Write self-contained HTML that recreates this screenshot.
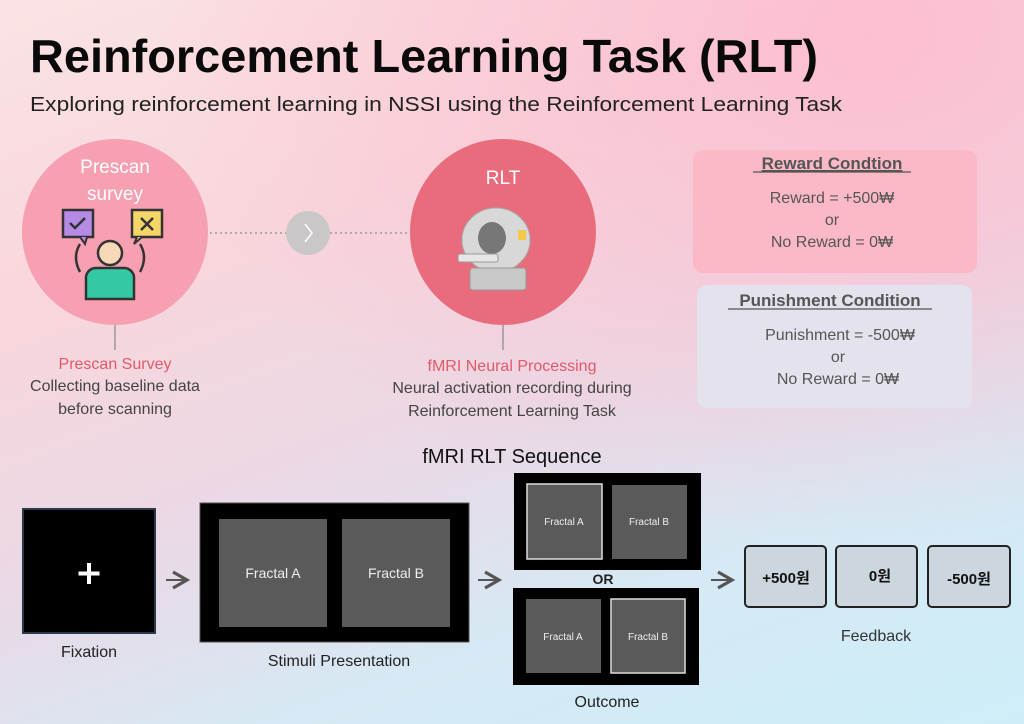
<!DOCTYPE html>
<html><head><meta charset="utf-8"><style>
html,body{margin:0;padding:0;width:1024px;height:724px;overflow:hidden}
body{background:linear-gradient(180deg,rgba(0,0,0,0) 0%,rgba(0,0,0,0) 100%),linear-gradient(160deg,#fbe3e4 0%,#f8d6dc 30%,#ead9e6 55%,#d6e9f4 75%,#cdeef8 100%)}
svg{position:absolute;left:0;top:0}
text{font-family:"Liberation Sans","Noto Sans CJK KR",sans-serif}
</style></head><body>
<svg width="1024" height="724" viewBox="0 0 1024 724">
<defs>
<radialGradient id="pk" cx="0.85" cy="0.05" r="0.7">
<stop offset="0" stop-color="#fcbfd0" stop-opacity="1"/>
<stop offset="1" stop-color="#fcbfd0" stop-opacity="0"/>
</radialGradient>
<marker id="ar" markerWidth="10" markerHeight="10" refX="8" refY="5" orient="auto"><path d="M1,1 L8,5 L1,9" fill="none" stroke="#555" stroke-width="1.6"/></marker>
</defs>
<rect width="1024" height="724" fill="url(#pk)"/>
<text x="30" y="72" font-size="46" font-weight="bold" fill="#0a0a0a" textLength="788" lengthAdjust="spacingAndGlyphs">Reinforcement Learning Task (RLT)</text>
<text x="30" y="111" font-size="20" fill="#222" textLength="812" lengthAdjust="spacingAndGlyphs">Exploring reinforcement learning in NSSI using the Reinforcement Learning Task</text>

<!-- dotted connector -->
<line x1="200" y1="233" x2="420" y2="233" stroke="#b5a8ad" stroke-width="2" stroke-dasharray="2,3"/>
<circle cx="308" cy="233" r="22" fill="#c9c7c8"/>
<path d="M305,224 L312,233 L305,242" fill="none" stroke="#fff" stroke-width="1.5"/>

<!-- circle 1 -->
<circle cx="115" cy="232" r="93" fill="#f7a0b2"/>
<text x="115" y="173" font-size="19" fill="#fff" text-anchor="middle">Prescan</text>
<text x="115" y="200" font-size="19" fill="#fff" text-anchor="middle">survey</text>
<rect x="63" y="210" width="30" height="27" fill="#b68be6" stroke="#333" stroke-width="2.5"/>
<path d="M70,223 l5,5 l10,-10" fill="none" stroke="#333" stroke-width="2.5"/>
<path d="M80,237 l5,7 l2,-7" fill="#b68be6" stroke="#333" stroke-width="2"/>
<rect x="132" y="210" width="30" height="27" fill="#f6d66a" stroke="#333" stroke-width="2.5"/>
<path d="M141,218 l12,12 M153,218 l-12,12" stroke="#333" stroke-width="2.5"/>
<path d="M137,237 l-3,7 l8,-7" fill="#f6d66a" stroke="#333" stroke-width="2"/>
<circle cx="110" cy="253" r="12" fill="#f7d8b8" stroke="#333" stroke-width="2.5"/>
<path d="M86,299 v-20 a10,10 0 0 1 10,-11 h28 a10,10 0 0 1 10,11 v20 z" fill="#34c9a5" stroke="#333" stroke-width="2.5"/>
<path d="M80,272 q-8,-15 0,-28 M140,272 q8,-15 0,-28" fill="none" stroke="#333" stroke-width="2.5"/>
<line x1="115" y1="325" x2="115" y2="350" stroke="#999" stroke-width="1.5"/>
<text x="115" y="369" font-size="16" fill="#e05a6a" text-anchor="middle">Prescan Survey</text>
<text x="115" y="391" font-size="16" fill="#444" text-anchor="middle">Collecting baseline data</text>
<text x="115" y="414" font-size="16" fill="#444" text-anchor="middle">before scanning</text>

<!-- circle 2 -->
<circle cx="503" cy="232" r="93" fill="#e96c7d"/>
<text x="503" y="184" font-size="19" fill="#fff" text-anchor="middle">RLT</text>
<ellipse cx="496" cy="240" rx="34" ry="32" fill="#d8d8d8" stroke="#aaa"/>
<ellipse cx="492" cy="238" rx="14" ry="16" fill="#777"/>
<rect x="470" y="268" width="56" height="22" rx="3" fill="#c8c8c8" stroke="#999"/>
<rect x="458" y="254" width="40" height="8" rx="2" fill="#e6e6e6" stroke="#999"/>
<rect x="518" y="230" width="8" height="10" fill="#f2c94c"/>
<line x1="503" y1="325" x2="503" y2="350" stroke="#999" stroke-width="1.5"/>
<text x="512" y="371" font-size="16" fill="#e05a6a" text-anchor="middle">fMRI Neural Processing</text>
<text x="512" y="393" font-size="16" fill="#444" text-anchor="middle">Neural activation recording during</text>
<text x="512" y="416" font-size="16" fill="#444" text-anchor="middle">Reinforcement Learning Task</text>

<!-- condition boxes -->
<rect x="693" y="150" width="284" height="123" rx="10" fill="#fbb9c7"/>
<text x="832" y="169" font-size="17" font-weight="bold" fill="#555" text-anchor="middle" text-decoration="underline">Reward Condtion</text>
<line x1="753" y1="172" x2="911" y2="172" stroke="#555" stroke-width="1.2"/>
<text x="832" y="203" font-size="16" fill="#555" text-anchor="middle">Reward = +500₩</text>
<text x="832" y="225" font-size="16" fill="#555" text-anchor="middle">or</text>
<text x="832" y="247" font-size="16" fill="#555" text-anchor="middle">No Reward = 0₩</text>
<rect x="697" y="285" width="275" height="123" rx="10" fill="#e4e2ec"/>
<text x="830" y="306" font-size="17" font-weight="bold" fill="#555" text-anchor="middle">Punishment Condition</text>
<line x1="728" y1="309" x2="932" y2="309" stroke="#555" stroke-width="1.2"/>
<text x="840" y="340" font-size="16" fill="#555" text-anchor="middle">Punishment = -500₩</text>
<text x="838" y="362" font-size="16" fill="#555" text-anchor="middle">or</text>
<text x="838" y="384" font-size="16" fill="#555" text-anchor="middle">No Reward = 0₩</text>

<!-- sequence -->
<text x="512" y="463" font-size="20" fill="#111" text-anchor="middle">fMRI RLT Sequence</text>
<rect x="23" y="509" width="132" height="124" fill="#000" stroke="#2a3a4a" stroke-width="2"/>
<path d="M89,563 v21 M78.5,573.5 h21" stroke="#fff" stroke-width="4"/>
<text x="89" y="657" font-size="16" fill="#222" text-anchor="middle">Fixation</text>
<line x1="166" y1="580" x2="187" y2="580" stroke="#555" stroke-width="2" marker-end="url(#ar)"/>

<rect x="200" y="503" width="269" height="139" fill="#000" stroke="#555" stroke-width="1"/>
<rect x="219" y="519" width="108" height="108" fill="#5a5a5a"/>
<rect x="342" y="519" width="108" height="108" fill="#5a5a5a"/>
<text x="273" y="578" font-size="14" fill="#eee" text-anchor="middle">Fractal A</text>
<text x="396" y="578" font-size="14" fill="#eee" text-anchor="middle">Fractal B</text>
<text x="339" y="666" font-size="16" fill="#222" text-anchor="middle">Stimuli Presentation</text>
<line x1="478" y1="580" x2="499" y2="580" stroke="#555" stroke-width="2" marker-end="url(#ar)"/>

<rect x="514" y="473" width="187" height="97" fill="#000"/>
<rect x="527" y="484" width="75" height="75" fill="#5a5a5a" stroke="#ddd" stroke-width="1.5"/>
<rect x="612" y="485" width="75" height="74" fill="#5a5a5a"/>
<text x="564" y="525" font-size="10" fill="#eee" text-anchor="middle">Fractal A</text>
<text x="649" y="525" font-size="10" fill="#eee" text-anchor="middle">Fractal B</text>
<text x="603" y="584" font-size="14" font-weight="bold" fill="#222" text-anchor="middle">OR</text>
<rect x="513" y="588" width="186" height="97" fill="#000"/>
<rect x="526" y="599" width="75" height="74" fill="#5a5a5a"/>
<rect x="611" y="599" width="74" height="74" fill="#5a5a5a" stroke="#ddd" stroke-width="1.5"/>
<text x="563" y="640" font-size="10" fill="#eee" text-anchor="middle">Fractal A</text>
<text x="648" y="640" font-size="10" fill="#eee" text-anchor="middle">Fractal B</text>
<text x="607" y="707" font-size="16" fill="#222" text-anchor="middle">Outcome</text>
<line x1="711" y1="580" x2="732" y2="580" stroke="#555" stroke-width="2" marker-end="url(#ar)"/>

<rect x="745" y="546" width="81" height="61" rx="4" fill="#ccd6df" stroke="#222" stroke-width="2"/>
<rect x="836" y="546" width="81" height="61" rx="4" fill="#ccd6df" stroke="#222" stroke-width="2"/>
<rect x="928" y="546" width="82" height="61" rx="4" fill="#ccd6df" stroke="#222" stroke-width="2"/>
<text x="786" y="583" font-size="15" font-weight="bold" fill="#111" text-anchor="middle">+500원</text>
<text x="880" y="581" font-size="15" font-weight="bold" fill="#111" text-anchor="middle">0원</text>
<text x="969" y="584" font-size="15" font-weight="bold" fill="#111" text-anchor="middle">-500원</text>
<text x="876" y="641" font-size="16" fill="#333" text-anchor="middle">Feedback</text>
</svg>
</body></html>
